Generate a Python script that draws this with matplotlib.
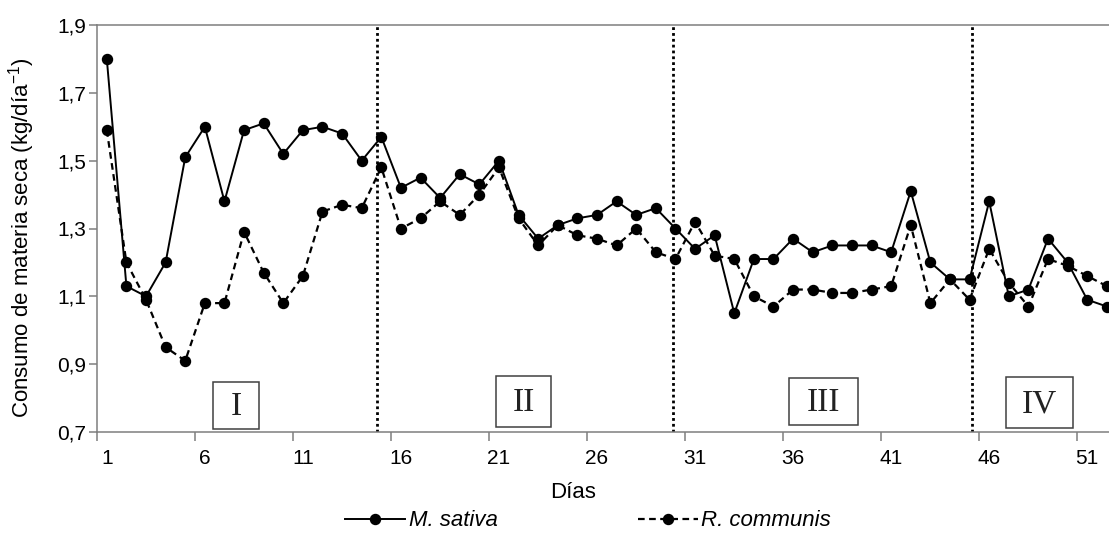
import matplotlib
matplotlib.use("Agg")
import matplotlib.pyplot as plt
from matplotlib.ticker import FixedLocator, FuncFormatter
from matplotlib.patches import Rectangle

plt.rcParams['font.family'] = ['Liberation Sans', 'DejaVu Sans']
plt.rcParams['mathtext.fontset'] = 'custom'
plt.rcParams['mathtext.rm'] = 'Liberation Sans'
plt.rcParams['mathtext.it'] = 'Liberation Sans:italic'

# ---- data ----
days = list(range(1, 53))
m_sativa = [1.80, 1.13, 1.10, 1.20, 1.51, 1.60, 1.38, 1.59, 1.61, 1.52,
            1.59, 1.60, 1.58, 1.50, 1.57, 1.42, 1.45, 1.39, 1.46, 1.43,
            1.50, 1.34, 1.27, 1.31, 1.33, 1.34, 1.38, 1.34, 1.36, 1.30,
            1.24, 1.28, 1.05, 1.21, 1.21, 1.27, 1.23, 1.25, 1.25, 1.25,
            1.23, 1.41, 1.20, 1.15, 1.15, 1.38, 1.10, 1.12, 1.27, 1.20,
            1.09, 1.07]
r_communis = [1.59, 1.20, 1.09, 0.95, 0.91, 1.08, 1.08, 1.29, 1.17, 1.08,
              1.16, 1.35, 1.37, 1.36, 1.48, 1.30, 1.33, 1.38, 1.34, 1.40,
              1.48, 1.33, 1.25, 1.31, 1.28, 1.27, 1.25, 1.30, 1.23, 1.21,
              1.32, 1.22, 1.21, 1.10, 1.07, 1.12, 1.12, 1.11, 1.11, 1.12,
              1.13, 1.31, 1.08, 1.15, 1.09, 1.24, 1.14, 1.07, 1.21, 1.19,
              1.16, 1.13]
x_tick_labels = [1, 6, 11, 16, 21, 26, 31, 36, 41, 46, 51]
y_ticks = [0.7, 0.9, 1.1, 1.3, 1.5, 1.7, 1.9]
period_labels = ['I', 'II', 'III', 'IV']
period_dividers = [14.76, 29.89, 45.10]

# ---- layout (not data) ----
box_extents = [(6.40, 8.78, 0.710, 0.847),
               (20.87, 23.67, 0.716, 0.866),
               (35.80, 39.33, 0.721, 0.858),
               (46.86, 50.29, 0.711, 0.861)]

W, H = 1109, 534
fig = plt.figure(figsize=(W / 100, H / 100), dpi=100)
ax = fig.add_axes([97 / W, 1 - 432 / H, 1 - 97 / W, (432 - 25) / H])

spine_col = '#7f7f7f'
l1, = ax.plot(days, m_sativa, color='black', lw=1.4, ls='-', marker='o',
              ms=7.2, label='M. sativa', zorder=3, clip_on=False)
l2, = ax.plot(days, r_communis, color='black', lw=1.6, ls=(0, (3.0, 2.0)),
              marker='o', ms=7.2, label='R. communis', zorder=3, clip_on=False)

for xd in period_dividers:
    ax.axvline(xd, color='black', lw=2.0, ls=(0, (1, 1.1)), zorder=2)

for lab, (x0, x1, y0, y1) in zip(period_labels, box_extents):
    ax.add_patch(Rectangle((x0, y0), x1 - x0, y1 - y0, fill=False,
                           edgecolor='#404040', lw=1.1, zorder=4))
    ax.text((x0 + x1) / 2, (y0 + y1) / 2 - 0.004, lab, ha='center', va='center',
            fontsize=24, family='Liberation Serif', color='#222222', zorder=5)

ax.set_xlim(0.5, 52.11)
ax.set_ylim(0.7, 1.9)

ax.xaxis.set_major_locator(FixedLocator(x_tick_labels))
ax.xaxis.set_minor_locator(FixedLocator([v - 0.5 for v in x_tick_labels]))
ax.yaxis.set_major_locator(FixedLocator(y_ticks))
ax.yaxis.set_major_formatter(FuncFormatter(lambda v, p: f'{v:.1f}'.replace('.', ',')))
ax.tick_params(axis='x', which='major', length=0, pad=12, labelsize=15)
ax.tick_params(axis='x', which='minor', length=6.5, width=1.1, color=spine_col, direction='out')
ax.tick_params(axis='y', which='major', length=6, width=1.1, color=spine_col,
               direction='out', pad=2, labelsize=15)

for s in ['left', 'bottom', 'top']:
    ax.spines[s].set_color(spine_col)
    ax.spines[s].set_linewidth(1.1)
ax.spines['right'].set_visible(False)

fig.text(573 / W, 1 - 492 / H, 'Días', ha='center', va='center', fontsize=16)
fig.text(22 / W, 1 - 238 / H, 'Consumo de materia seca (kg/día$^{-1}$)',
         rotation=90, ha='center', va='center', fontsize=16)

leg = fig.legend(handles=[l1, l2], loc='center', ncol=2, frameon=False,
                 bbox_to_anchor=(588 / W, 1 - 521 / H), handlelength=2.7,
                 handletextpad=0.15, columnspacing=6.3, borderpad=0,
                 prop={'style': 'italic', 'size': 16})

fig.savefig('out.png', dpi=100)
